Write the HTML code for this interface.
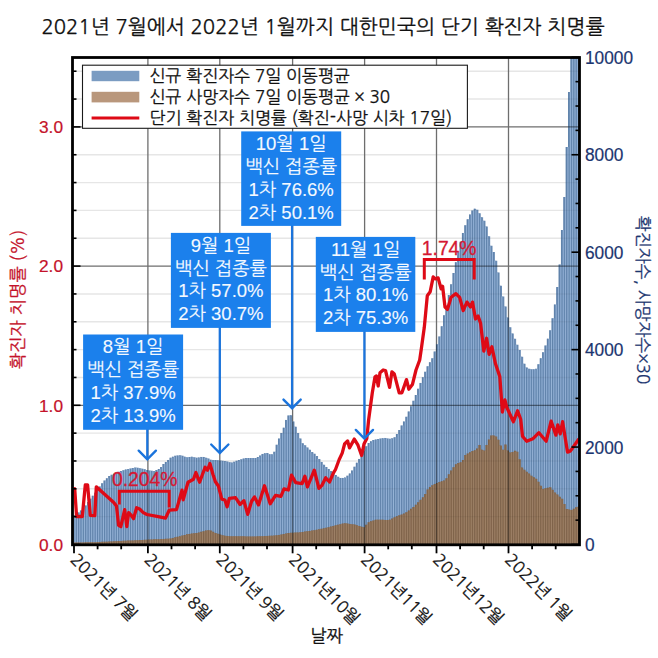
<!DOCTYPE html><html><head><meta charset="utf-8"><style>html,body{margin:0;padding:0;background:#fff;}body{width:658px;height:658px;overflow:hidden;position:relative}svg{position:absolute;left:0;top:0}</style></head><body>
<svg width="658" height="658" viewBox="0 0 658 658">
<rect width="658" height="658" fill="#fff"/>
<text x="41.5" y="34.3" font-family="'NanumGothic','Noto Sans CJK KR',sans-serif" font-size="20.3" fill="#111" stroke="#111" stroke-width="0.25">2021년 7월에서 2022년 1월까지 대한민국의 단기 확진자 치명률</text>
<defs><clipPath id="pc"><rect x="72.5" y="57.5" width="507.0" height="487.3"/></clipPath></defs>
<g clip-path="url(#pc)">
<clipPath id="bc"><path d="M72.82 544.8V515.00h2.358V544.8zM75.18 544.8V513.41h2.358V544.8zM77.54 544.8V512.38h2.358V544.8zM79.89 544.8V510.43h2.358V544.8zM82.25 544.8V507.92h2.358V544.8zM84.61 544.8V505.38h2.358V544.8zM86.97 544.8V502.11h2.358V544.8zM89.33 544.8V498.84h2.358V544.8zM91.69 544.8V495.78h2.358V544.8zM94.04 544.8V492.84h2.358V544.8zM96.40 544.8V489.90h2.358V544.8zM98.76 544.8V486.62h2.358V544.8zM101.12 544.8V483.28h2.358V544.8zM103.47 544.8V480.61h2.358V544.8zM105.83 544.8V478.36h2.358V544.8zM108.19 544.8V476.10h2.358V544.8zM110.55 544.8V474.77h2.358V544.8zM112.91 544.8V473.78h2.358V544.8zM115.27 544.8V472.79h2.358V544.8zM117.62 544.8V471.87h2.358V544.8zM119.98 544.8V471.04h2.358V544.8zM122.34 544.8V470.20h2.358V544.8zM124.70 544.8V469.47h2.358V544.8zM127.06 544.8V469.00h2.358V544.8zM129.41 544.8V468.53h2.358V544.8zM131.77 544.8V468.06h2.358V544.8zM134.13 544.8V467.60h2.358V544.8zM136.49 544.8V467.82h2.358V544.8zM138.84 544.8V468.22h2.358V544.8zM141.20 544.8V468.63h2.358V544.8zM143.56 544.8V469.24h2.358V544.8zM145.92 544.8V470.01h2.358V544.8zM148.28 544.8V470.49h2.358V544.8zM150.64 544.8V470.81h2.358V544.8zM152.99 544.8V471.03h2.358V544.8zM155.35 544.8V470.02h2.358V544.8zM157.71 544.8V469.02h2.358V544.8zM160.07 544.8V467.03h2.358V544.8zM162.42 544.8V464.01h2.358V544.8zM164.78 544.8V461.95h2.358V544.8zM167.14 544.8V459.98h2.358V544.8zM169.50 544.8V457.67h2.358V544.8zM171.86 544.8V456.71h2.358V544.8zM174.22 544.8V455.75h2.358V544.8zM176.57 544.8V455.43h2.358V544.8zM178.93 544.8V455.34h2.358V544.8zM181.29 544.8V455.74h2.358V544.8zM183.65 544.8V456.64h2.358V544.8zM186.00 544.8V457.14h2.358V544.8zM188.36 544.8V456.97h2.358V544.8zM190.72 544.8V456.80h2.358V544.8zM193.08 544.8V457.24h2.358V544.8zM195.44 544.8V457.69h2.358V544.8zM197.79 544.8V457.41h2.358V544.8zM200.15 544.8V456.88h2.358V544.8zM202.51 544.8V456.95h2.358V544.8zM204.87 544.8V457.71h2.358V544.8zM207.23 544.8V458.58h2.358V544.8zM209.59 544.8V459.73h2.358V544.8zM211.94 544.8V459.91h2.358V544.8zM214.30 544.8V460.09h2.358V544.8zM216.66 544.8V460.27h2.358V544.8zM219.02 544.8V460.49h2.358V544.8zM221.38 544.8V460.80h2.358V544.8zM223.73 544.8V461.11h2.358V544.8zM226.09 544.8V461.61h2.358V544.8zM228.45 544.8V462.19h2.358V544.8zM230.81 544.8V462.59h2.358V544.8zM233.16 544.8V461.70h2.358V544.8zM235.52 544.8V460.81h2.358V544.8zM237.88 544.8V460.02h2.358V544.8zM240.24 544.8V459.31h2.358V544.8zM242.60 544.8V458.59h2.358V544.8zM244.96 544.8V458.09h2.358V544.8zM247.31 544.8V458.06h2.358V544.8zM249.67 544.8V458.03h2.358V544.8zM252.03 544.8V458.01h2.358V544.8zM254.39 544.8V458.08h2.358V544.8zM256.75 544.8V457.08h2.358V544.8zM259.10 544.8V455.49h2.358V544.8zM261.46 544.8V453.91h2.358V544.8zM263.82 544.8V453.28h2.358V544.8zM266.18 544.8V452.97h2.358V544.8zM268.54 544.8V454.13h2.358V544.8zM270.89 544.8V454.13h2.358V544.8zM273.25 544.8V451.77h2.358V544.8zM275.61 544.8V444.80h2.358V544.8zM277.97 544.8V438.59h2.358V544.8zM280.33 544.8V433.08h2.358V544.8zM282.68 544.8V427.66h2.358V544.8zM285.04 544.8V419.88h2.358V544.8zM287.40 544.8V415.41h2.358V544.8zM289.76 544.8V415.20h2.358V544.8zM292.12 544.8V421.45h2.358V544.8zM294.47 544.8V426.70h2.358V544.8zM296.83 544.8V433.11h2.358V544.8zM299.19 544.8V438.43h2.358V544.8zM301.55 544.8V443.32h2.358V544.8zM303.91 544.8V445.30h2.358V544.8zM306.26 544.8V447.44h2.358V544.8zM308.62 544.8V449.80h2.358V544.8zM310.98 544.8V452.04h2.358V544.8zM313.34 544.8V453.80h2.358V544.8zM315.70 544.8V456.00h2.358V544.8zM318.05 544.8V458.98h2.358V544.8zM320.41 544.8V461.91h2.358V544.8zM322.77 544.8V464.82h2.358V544.8zM325.13 544.8V466.98h2.358V544.8zM327.49 544.8V468.91h2.358V544.8zM329.84 544.8V470.94h2.358V544.8zM332.20 544.8V473.09h2.358V544.8zM334.56 544.8V475.06h2.358V544.8zM336.92 544.8V476.80h2.358V544.8zM339.28 544.8V477.90h2.358V544.8zM341.63 544.8V477.90h2.358V544.8zM343.99 544.8V477.40h2.358V544.8zM346.35 544.8V475.63h2.358V544.8zM348.71 544.8V473.52h2.358V544.8zM351.07 544.8V470.40h2.358V544.8zM353.42 544.8V466.69h2.358V544.8zM355.78 544.8V462.72h2.358V544.8zM358.14 544.8V458.89h2.358V544.8zM360.50 544.8V454.97h2.358V544.8zM362.86 544.8V450.94h2.358V544.8zM365.21 544.8V446.28h2.358V544.8zM367.57 544.8V443.01h2.358V544.8zM369.93 544.8V441.20h2.358V544.8zM372.29 544.8V439.99h2.358V544.8zM374.65 544.8V439.53h2.358V544.8zM377.00 544.8V439.06h2.358V544.8zM379.36 544.8V438.60h2.358V544.8zM381.72 544.8V438.13h2.358V544.8zM384.08 544.8V437.93h2.358V544.8zM386.44 544.8V438.39h2.358V544.8zM388.79 544.8V438.86h2.358V544.8zM391.15 544.8V438.29h2.358V544.8zM393.51 544.8V437.27h2.358V544.8zM395.87 544.8V434.09h2.358V544.8zM398.23 544.8V430.10h2.358V544.8zM400.58 544.8V425.46h2.358V544.8zM402.94 544.8V421.43h2.358V544.8zM405.30 544.8V416.83h2.358V544.8zM407.66 544.8V411.49h2.358V544.8zM410.02 544.8V406.15h2.358V544.8zM412.37 544.8V400.82h2.358V544.8zM414.73 544.8V395.03h2.358V544.8zM417.09 544.8V388.72h2.358V544.8zM419.45 544.8V382.90h2.358V544.8zM421.81 544.8V377.21h2.358V544.8zM424.16 544.8V371.72h2.358V544.8zM426.52 544.8V366.36h2.358V544.8zM428.88 544.8V362.14h2.358V544.8zM431.24 544.8V358.30h2.358V544.8zM433.60 544.8V351.61h2.358V544.8zM435.95 544.8V344.35h2.358V544.8zM438.31 544.8V336.38h2.358V544.8zM440.67 544.8V326.34h2.358V544.8zM443.03 544.8V315.32h2.358V544.8zM445.39 544.8V305.56h2.358V544.8zM447.74 544.8V295.11h2.358V544.8zM450.10 544.8V284.25h2.358V544.8zM452.46 544.8V273.11h2.358V544.8zM454.82 544.8V262.15h2.358V544.8zM457.18 544.8V251.31h2.358V544.8zM459.53 544.8V241.72h2.358V544.8zM461.89 544.8V232.97h2.358V544.8zM464.25 544.8V225.20h2.358V544.8zM466.61 544.8V219.37h2.358V544.8zM468.97 544.8V214.41h2.358V544.8zM471.32 544.8V210.52h2.358V544.8zM473.68 544.8V208.66h2.358V544.8zM476.04 544.8V209.81h2.358V544.8zM478.40 544.8V213.29h2.358V544.8zM480.76 544.8V217.28h2.358V544.8zM483.11 544.8V220.76h2.358V544.8zM485.47 544.8V226.48h2.358V544.8zM487.83 544.8V236.36h2.358V544.8zM490.19 544.8V245.87h2.358V544.8zM492.55 544.8V252.12h2.358V544.8zM494.90 544.8V260.80h2.358V544.8zM497.26 544.8V272.46h2.358V544.8zM499.62 544.8V285.72h2.358V544.8zM501.98 544.8V296.62h2.358V544.8zM504.34 544.8V306.54h2.358V544.8zM506.69 544.8V317.60h2.358V544.8zM509.05 544.8V327.29h2.358V544.8zM511.41 544.8V333.42h2.358V544.8zM513.77 544.8V338.87h2.358V544.8zM516.13 544.8V344.81h2.358V544.8zM518.48 544.8V350.09h2.358V544.8zM520.84 544.8V356.72h2.358V544.8zM523.20 544.8V363.70h2.358V544.8zM525.56 544.8V367.50h2.358V544.8zM527.92 544.8V368.85h2.358V544.8zM530.27 544.8V369.31h2.358V544.8zM532.63 544.8V369.31h2.358V544.8zM534.99 544.8V368.86h2.358V544.8zM537.35 544.8V364.15h2.358V544.8zM539.71 544.8V358.22h2.358V544.8zM542.06 544.8V352.16h2.358V544.8zM544.42 544.8V345.51h2.358V544.8zM546.78 544.8V338.63h2.358V544.8zM549.14 544.8V330.18h2.358V544.8zM551.50 544.8V318.24h2.358V544.8zM553.85 544.8V304.50h2.358V544.8zM556.21 544.8V287.06h2.358V544.8zM558.57 544.8V264.53h2.358V544.8zM560.93 544.8V230.00h2.358V544.8zM563.28 544.8V197.00h2.358V544.8zM565.64 544.8V147.00h2.358V544.8zM568.00 544.8V92.00h2.358V544.8zM570.36 544.8V39.42h2.358V544.8zM572.72 544.8V29.60h2.358V544.8zM575.08 544.8V19.77h2.358V544.8zM577.43 544.8V9.95h2.358V544.8z"/></clipPath>
<line x1="72.5" x2="579.5" y1="516.66" y2="516.66" stroke="#e6e6e6" stroke-width="1.4"/>
<line x1="72.5" x2="579.5" y1="488.82" y2="488.82" stroke="#e6e6e6" stroke-width="1.4"/>
<line x1="72.5" x2="579.5" y1="460.98" y2="460.98" stroke="#e6e6e6" stroke-width="1.4"/>
<line x1="72.5" x2="579.5" y1="433.14" y2="433.14" stroke="#e6e6e6" stroke-width="1.4"/>
<line x1="72.5" x2="579.5" y1="405.30" y2="405.30" stroke="#6e6e6e" stroke-width="1.3"/>
<line x1="72.5" x2="579.5" y1="377.46" y2="377.46" stroke="#e6e6e6" stroke-width="1.4"/>
<line x1="72.5" x2="579.5" y1="349.62" y2="349.62" stroke="#e6e6e6" stroke-width="1.4"/>
<line x1="72.5" x2="579.5" y1="321.78" y2="321.78" stroke="#e6e6e6" stroke-width="1.4"/>
<line x1="72.5" x2="579.5" y1="293.94" y2="293.94" stroke="#e6e6e6" stroke-width="1.4"/>
<line x1="72.5" x2="579.5" y1="266.10" y2="266.10" stroke="#6e6e6e" stroke-width="1.3"/>
<line x1="72.5" x2="579.5" y1="238.26" y2="238.26" stroke="#e6e6e6" stroke-width="1.4"/>
<line x1="72.5" x2="579.5" y1="210.42" y2="210.42" stroke="#e6e6e6" stroke-width="1.4"/>
<line x1="72.5" x2="579.5" y1="182.58" y2="182.58" stroke="#e6e6e6" stroke-width="1.4"/>
<line x1="72.5" x2="579.5" y1="154.74" y2="154.74" stroke="#e6e6e6" stroke-width="1.4"/>
<line x1="72.5" x2="579.5" y1="126.90" y2="126.90" stroke="#6e6e6e" stroke-width="1.3"/>
<line x1="72.5" x2="579.5" y1="99.06" y2="99.06" stroke="#e6e6e6" stroke-width="1.4"/>
<line x1="72.5" x2="579.5" y1="71.22" y2="71.22" stroke="#e6e6e6" stroke-width="1.4"/>
<line x1="147.9" x2="147.9" y1="57.5" y2="544.8" stroke="#6e6e6e" stroke-width="1.3"/>
<line x1="219.8" x2="219.8" y1="57.5" y2="544.8" stroke="#6e6e6e" stroke-width="1.3"/>
<line x1="292.6" x2="292.6" y1="57.5" y2="544.8" stroke="#6e6e6e" stroke-width="1.3"/>
<line x1="364.6" x2="364.6" y1="57.5" y2="544.8" stroke="#6e6e6e" stroke-width="1.3"/>
<line x1="436.5" x2="436.5" y1="57.5" y2="544.8" stroke="#6e6e6e" stroke-width="1.3"/>
<line x1="508.5" x2="508.5" y1="57.5" y2="544.8" stroke="#6e6e6e" stroke-width="1.3"/>
<path d="M72.82 544.8V515.00h2.358V544.8zM75.18 544.8V513.41h2.358V544.8zM77.54 544.8V512.38h2.358V544.8zM79.89 544.8V510.43h2.358V544.8zM82.25 544.8V507.92h2.358V544.8zM84.61 544.8V505.38h2.358V544.8zM86.97 544.8V502.11h2.358V544.8zM89.33 544.8V498.84h2.358V544.8zM91.69 544.8V495.78h2.358V544.8zM94.04 544.8V492.84h2.358V544.8zM96.40 544.8V489.90h2.358V544.8zM98.76 544.8V486.62h2.358V544.8zM101.12 544.8V483.28h2.358V544.8zM103.47 544.8V480.61h2.358V544.8zM105.83 544.8V478.36h2.358V544.8zM108.19 544.8V476.10h2.358V544.8zM110.55 544.8V474.77h2.358V544.8zM112.91 544.8V473.78h2.358V544.8zM115.27 544.8V472.79h2.358V544.8zM117.62 544.8V471.87h2.358V544.8zM119.98 544.8V471.04h2.358V544.8zM122.34 544.8V470.20h2.358V544.8zM124.70 544.8V469.47h2.358V544.8zM127.06 544.8V469.00h2.358V544.8zM129.41 544.8V468.53h2.358V544.8zM131.77 544.8V468.06h2.358V544.8zM134.13 544.8V467.60h2.358V544.8zM136.49 544.8V467.82h2.358V544.8zM138.84 544.8V468.22h2.358V544.8zM141.20 544.8V468.63h2.358V544.8zM143.56 544.8V469.24h2.358V544.8zM145.92 544.8V470.01h2.358V544.8zM148.28 544.8V470.49h2.358V544.8zM150.64 544.8V470.81h2.358V544.8zM152.99 544.8V471.03h2.358V544.8zM155.35 544.8V470.02h2.358V544.8zM157.71 544.8V469.02h2.358V544.8zM160.07 544.8V467.03h2.358V544.8zM162.42 544.8V464.01h2.358V544.8zM164.78 544.8V461.95h2.358V544.8zM167.14 544.8V459.98h2.358V544.8zM169.50 544.8V457.67h2.358V544.8zM171.86 544.8V456.71h2.358V544.8zM174.22 544.8V455.75h2.358V544.8zM176.57 544.8V455.43h2.358V544.8zM178.93 544.8V455.34h2.358V544.8zM181.29 544.8V455.74h2.358V544.8zM183.65 544.8V456.64h2.358V544.8zM186.00 544.8V457.14h2.358V544.8zM188.36 544.8V456.97h2.358V544.8zM190.72 544.8V456.80h2.358V544.8zM193.08 544.8V457.24h2.358V544.8zM195.44 544.8V457.69h2.358V544.8zM197.79 544.8V457.41h2.358V544.8zM200.15 544.8V456.88h2.358V544.8zM202.51 544.8V456.95h2.358V544.8zM204.87 544.8V457.71h2.358V544.8zM207.23 544.8V458.58h2.358V544.8zM209.59 544.8V459.73h2.358V544.8zM211.94 544.8V459.91h2.358V544.8zM214.30 544.8V460.09h2.358V544.8zM216.66 544.8V460.27h2.358V544.8zM219.02 544.8V460.49h2.358V544.8zM221.38 544.8V460.80h2.358V544.8zM223.73 544.8V461.11h2.358V544.8zM226.09 544.8V461.61h2.358V544.8zM228.45 544.8V462.19h2.358V544.8zM230.81 544.8V462.59h2.358V544.8zM233.16 544.8V461.70h2.358V544.8zM235.52 544.8V460.81h2.358V544.8zM237.88 544.8V460.02h2.358V544.8zM240.24 544.8V459.31h2.358V544.8zM242.60 544.8V458.59h2.358V544.8zM244.96 544.8V458.09h2.358V544.8zM247.31 544.8V458.06h2.358V544.8zM249.67 544.8V458.03h2.358V544.8zM252.03 544.8V458.01h2.358V544.8zM254.39 544.8V458.08h2.358V544.8zM256.75 544.8V457.08h2.358V544.8zM259.10 544.8V455.49h2.358V544.8zM261.46 544.8V453.91h2.358V544.8zM263.82 544.8V453.28h2.358V544.8zM266.18 544.8V452.97h2.358V544.8zM268.54 544.8V454.13h2.358V544.8zM270.89 544.8V454.13h2.358V544.8zM273.25 544.8V451.77h2.358V544.8zM275.61 544.8V444.80h2.358V544.8zM277.97 544.8V438.59h2.358V544.8zM280.33 544.8V433.08h2.358V544.8zM282.68 544.8V427.66h2.358V544.8zM285.04 544.8V419.88h2.358V544.8zM287.40 544.8V415.41h2.358V544.8zM289.76 544.8V415.20h2.358V544.8zM292.12 544.8V421.45h2.358V544.8zM294.47 544.8V426.70h2.358V544.8zM296.83 544.8V433.11h2.358V544.8zM299.19 544.8V438.43h2.358V544.8zM301.55 544.8V443.32h2.358V544.8zM303.91 544.8V445.30h2.358V544.8zM306.26 544.8V447.44h2.358V544.8zM308.62 544.8V449.80h2.358V544.8zM310.98 544.8V452.04h2.358V544.8zM313.34 544.8V453.80h2.358V544.8zM315.70 544.8V456.00h2.358V544.8zM318.05 544.8V458.98h2.358V544.8zM320.41 544.8V461.91h2.358V544.8zM322.77 544.8V464.82h2.358V544.8zM325.13 544.8V466.98h2.358V544.8zM327.49 544.8V468.91h2.358V544.8zM329.84 544.8V470.94h2.358V544.8zM332.20 544.8V473.09h2.358V544.8zM334.56 544.8V475.06h2.358V544.8zM336.92 544.8V476.80h2.358V544.8zM339.28 544.8V477.90h2.358V544.8zM341.63 544.8V477.90h2.358V544.8zM343.99 544.8V477.40h2.358V544.8zM346.35 544.8V475.63h2.358V544.8zM348.71 544.8V473.52h2.358V544.8zM351.07 544.8V470.40h2.358V544.8zM353.42 544.8V466.69h2.358V544.8zM355.78 544.8V462.72h2.358V544.8zM358.14 544.8V458.89h2.358V544.8zM360.50 544.8V454.97h2.358V544.8zM362.86 544.8V450.94h2.358V544.8zM365.21 544.8V446.28h2.358V544.8zM367.57 544.8V443.01h2.358V544.8zM369.93 544.8V441.20h2.358V544.8zM372.29 544.8V439.99h2.358V544.8zM374.65 544.8V439.53h2.358V544.8zM377.00 544.8V439.06h2.358V544.8zM379.36 544.8V438.60h2.358V544.8zM381.72 544.8V438.13h2.358V544.8zM384.08 544.8V437.93h2.358V544.8zM386.44 544.8V438.39h2.358V544.8zM388.79 544.8V438.86h2.358V544.8zM391.15 544.8V438.29h2.358V544.8zM393.51 544.8V437.27h2.358V544.8zM395.87 544.8V434.09h2.358V544.8zM398.23 544.8V430.10h2.358V544.8zM400.58 544.8V425.46h2.358V544.8zM402.94 544.8V421.43h2.358V544.8zM405.30 544.8V416.83h2.358V544.8zM407.66 544.8V411.49h2.358V544.8zM410.02 544.8V406.15h2.358V544.8zM412.37 544.8V400.82h2.358V544.8zM414.73 544.8V395.03h2.358V544.8zM417.09 544.8V388.72h2.358V544.8zM419.45 544.8V382.90h2.358V544.8zM421.81 544.8V377.21h2.358V544.8zM424.16 544.8V371.72h2.358V544.8zM426.52 544.8V366.36h2.358V544.8zM428.88 544.8V362.14h2.358V544.8zM431.24 544.8V358.30h2.358V544.8zM433.60 544.8V351.61h2.358V544.8zM435.95 544.8V344.35h2.358V544.8zM438.31 544.8V336.38h2.358V544.8zM440.67 544.8V326.34h2.358V544.8zM443.03 544.8V315.32h2.358V544.8zM445.39 544.8V305.56h2.358V544.8zM447.74 544.8V295.11h2.358V544.8zM450.10 544.8V284.25h2.358V544.8zM452.46 544.8V273.11h2.358V544.8zM454.82 544.8V262.15h2.358V544.8zM457.18 544.8V251.31h2.358V544.8zM459.53 544.8V241.72h2.358V544.8zM461.89 544.8V232.97h2.358V544.8zM464.25 544.8V225.20h2.358V544.8zM466.61 544.8V219.37h2.358V544.8zM468.97 544.8V214.41h2.358V544.8zM471.32 544.8V210.52h2.358V544.8zM473.68 544.8V208.66h2.358V544.8zM476.04 544.8V209.81h2.358V544.8zM478.40 544.8V213.29h2.358V544.8zM480.76 544.8V217.28h2.358V544.8zM483.11 544.8V220.76h2.358V544.8zM485.47 544.8V226.48h2.358V544.8zM487.83 544.8V236.36h2.358V544.8zM490.19 544.8V245.87h2.358V544.8zM492.55 544.8V252.12h2.358V544.8zM494.90 544.8V260.80h2.358V544.8zM497.26 544.8V272.46h2.358V544.8zM499.62 544.8V285.72h2.358V544.8zM501.98 544.8V296.62h2.358V544.8zM504.34 544.8V306.54h2.358V544.8zM506.69 544.8V317.60h2.358V544.8zM509.05 544.8V327.29h2.358V544.8zM511.41 544.8V333.42h2.358V544.8zM513.77 544.8V338.87h2.358V544.8zM516.13 544.8V344.81h2.358V544.8zM518.48 544.8V350.09h2.358V544.8zM520.84 544.8V356.72h2.358V544.8zM523.20 544.8V363.70h2.358V544.8zM525.56 544.8V367.50h2.358V544.8zM527.92 544.8V368.85h2.358V544.8zM530.27 544.8V369.31h2.358V544.8zM532.63 544.8V369.31h2.358V544.8zM534.99 544.8V368.86h2.358V544.8zM537.35 544.8V364.15h2.358V544.8zM539.71 544.8V358.22h2.358V544.8zM542.06 544.8V352.16h2.358V544.8zM544.42 544.8V345.51h2.358V544.8zM546.78 544.8V338.63h2.358V544.8zM549.14 544.8V330.18h2.358V544.8zM551.50 544.8V318.24h2.358V544.8zM553.85 544.8V304.50h2.358V544.8zM556.21 544.8V287.06h2.358V544.8zM558.57 544.8V264.53h2.358V544.8zM560.93 544.8V230.00h2.358V544.8zM563.28 544.8V197.00h2.358V544.8zM565.64 544.8V147.00h2.358V544.8zM568.00 544.8V92.00h2.358V544.8zM570.36 544.8V39.42h2.358V544.8zM572.72 544.8V29.60h2.358V544.8zM575.08 544.8V19.77h2.358V544.8zM577.43 544.8V9.95h2.358V544.8z" fill="#6b8db6"/>
<path d="M75.93 544.8V513.41M78.29 544.8V512.38M80.64 544.8V510.43M83.00 544.8V507.92M85.36 544.8V505.38M87.72 544.8V502.11M90.08 544.8V498.84M92.44 544.8V495.78M94.79 544.8V492.84M97.15 544.8V489.90M99.51 544.8V486.62M101.87 544.8V483.28M104.22 544.8V480.61M106.58 544.8V478.36M108.94 544.8V476.10M111.30 544.8V474.77M113.66 544.8V473.78M116.02 544.8V472.79M118.37 544.8V471.87M120.73 544.8V471.04M123.09 544.8V470.20M125.45 544.8V469.47M127.81 544.8V469.00M130.16 544.8V468.53M132.52 544.8V468.06M134.88 544.8V467.60M137.24 544.8V467.82M139.59 544.8V468.22M141.95 544.8V468.63M144.31 544.8V469.24M146.67 544.8V470.01M149.03 544.8V470.49M151.39 544.8V470.81M153.74 544.8V471.03M156.10 544.8V470.02M158.46 544.8V469.02M160.82 544.8V467.03M163.17 544.8V464.01M165.53 544.8V461.95M167.89 544.8V459.98M170.25 544.8V457.67M172.61 544.8V456.71M174.97 544.8V455.75M177.32 544.8V455.43M179.68 544.8V455.34M182.04 544.8V455.74M184.40 544.8V456.64M186.75 544.8V457.14M189.11 544.8V456.97M191.47 544.8V456.80M193.83 544.8V457.24M196.19 544.8V457.69M198.54 544.8V457.41M200.90 544.8V456.88M203.26 544.8V456.95M205.62 544.8V457.71M207.98 544.8V458.58M210.34 544.8V459.73M212.69 544.8V459.91M215.05 544.8V460.09M217.41 544.8V460.27M219.77 544.8V460.49M222.12 544.8V460.80M224.48 544.8V461.11M226.84 544.8V461.61M229.20 544.8V462.19M231.56 544.8V462.59M233.91 544.8V461.70M236.27 544.8V460.81M238.63 544.8V460.02M240.99 544.8V459.31M243.35 544.8V458.59M245.71 544.8V458.09M248.06 544.8V458.06M250.42 544.8V458.03M252.78 544.8V458.01M255.14 544.8V458.08M257.50 544.8V457.08M259.85 544.8V455.49M262.21 544.8V453.91M264.57 544.8V453.28M266.93 544.8V452.97M269.29 544.8V454.13M271.64 544.8V454.13M274.00 544.8V451.77M276.36 544.8V444.80M278.72 544.8V438.59M281.08 544.8V433.08M283.43 544.8V427.66M285.79 544.8V419.88M288.15 544.8V415.41M290.51 544.8V415.20M292.87 544.8V421.45M295.22 544.8V426.70M297.58 544.8V433.11M299.94 544.8V438.43M302.30 544.8V443.32M304.66 544.8V445.30M307.01 544.8V447.44M309.37 544.8V449.80M311.73 544.8V452.04M314.09 544.8V453.80M316.45 544.8V456.00M318.80 544.8V458.98M321.16 544.8V461.91M323.52 544.8V464.82M325.88 544.8V466.98M328.24 544.8V468.91M330.59 544.8V470.94M332.95 544.8V473.09M335.31 544.8V475.06M337.67 544.8V476.80M340.03 544.8V477.90M342.38 544.8V477.90M344.74 544.8V477.40M347.10 544.8V475.63M349.46 544.8V473.52M351.82 544.8V470.40M354.17 544.8V466.69M356.53 544.8V462.72M358.89 544.8V458.89M361.25 544.8V454.97M363.61 544.8V450.94M365.96 544.8V446.28M368.32 544.8V443.01M370.68 544.8V441.20M373.04 544.8V439.99M375.40 544.8V439.53M377.75 544.8V439.06M380.11 544.8V438.60M382.47 544.8V438.13M384.83 544.8V437.93M387.19 544.8V438.39M389.54 544.8V438.86M391.90 544.8V438.29M394.26 544.8V437.27M396.62 544.8V434.09M398.98 544.8V430.10M401.33 544.8V425.46M403.69 544.8V421.43M406.05 544.8V416.83M408.41 544.8V411.49M410.77 544.8V406.15M413.12 544.8V400.82M415.48 544.8V395.03M417.84 544.8V388.72M420.20 544.8V382.90M422.56 544.8V377.21M424.91 544.8V371.72M427.27 544.8V366.36M429.63 544.8V362.14M431.99 544.8V358.30M434.35 544.8V351.61M436.70 544.8V344.35M439.06 544.8V336.38M441.42 544.8V326.34M443.78 544.8V315.32M446.14 544.8V305.56M448.49 544.8V295.11M450.85 544.8V284.25M453.21 544.8V273.11M455.57 544.8V262.15M457.93 544.8V251.31M460.28 544.8V241.72M462.64 544.8V232.97M465.00 544.8V225.20M467.36 544.8V219.37M469.72 544.8V214.41M472.07 544.8V210.52M474.43 544.8V208.66M476.79 544.8V209.81M479.15 544.8V213.29M481.51 544.8V217.28M483.86 544.8V220.76M486.22 544.8V226.48M488.58 544.8V236.36M490.94 544.8V245.87M493.30 544.8V252.12M495.65 544.8V260.80M498.01 544.8V272.46M500.37 544.8V285.72M502.73 544.8V296.62M505.09 544.8V306.54M507.44 544.8V317.60M509.80 544.8V327.29M512.16 544.8V333.42M514.52 544.8V338.87M516.88 544.8V344.81M519.23 544.8V350.09M521.59 544.8V356.72M523.95 544.8V363.70M526.31 544.8V367.50M528.67 544.8V368.85M531.02 544.8V369.31M533.38 544.8V369.31M535.74 544.8V368.86M538.10 544.8V364.15M540.46 544.8V358.22M542.81 544.8V352.16M545.17 544.8V345.51M547.53 544.8V338.63M549.89 544.8V330.18M552.25 544.8V318.24M554.60 544.8V304.50M556.96 544.8V287.06M559.32 544.8V264.53M561.68 544.8V230.00M564.03 544.8V197.00M566.39 544.8V147.00M568.75 544.8V92.00M571.11 544.8V39.42M573.47 544.8V29.60M575.83 544.8V19.77M578.18 544.8V9.95" stroke="#56799f" stroke-width="0.6" fill="none"/>
<path d="M75.18 544.8V515.00M77.54 544.8V513.41M79.89 544.8V512.38M82.25 544.8V510.43M84.61 544.8V507.92M86.97 544.8V505.38M89.33 544.8V502.11M91.69 544.8V498.84M94.04 544.8V495.78M96.40 544.8V492.84M98.76 544.8V489.90M101.12 544.8V486.62M103.47 544.8V483.28M105.83 544.8V480.61M108.19 544.8V478.36M110.55 544.8V476.10M112.91 544.8V474.77M115.27 544.8V473.78M117.62 544.8V472.79M119.98 544.8V471.87M122.34 544.8V471.04M124.70 544.8V470.20M127.06 544.8V469.47M129.41 544.8V469.00M131.77 544.8V468.53M134.13 544.8V468.06M136.49 544.8V467.82M138.84 544.8V468.22M141.20 544.8V468.63M143.56 544.8V469.24M145.92 544.8V470.01M148.28 544.8V470.49M150.64 544.8V470.81M152.99 544.8V471.03M155.35 544.8V471.03M157.71 544.8V470.02M160.07 544.8V469.02M162.42 544.8V467.03M164.78 544.8V464.01M167.14 544.8V461.95M169.50 544.8V459.98M171.86 544.8V457.67M174.22 544.8V456.71M176.57 544.8V455.75M178.93 544.8V455.43M181.29 544.8V455.74M183.65 544.8V456.64M186.00 544.8V457.14M188.36 544.8V457.14M190.72 544.8V456.97M193.08 544.8V457.24M195.44 544.8V457.69M197.79 544.8V457.69M200.15 544.8V457.41M202.51 544.8V456.95M204.87 544.8V457.71M207.23 544.8V458.58M209.59 544.8V459.73M211.94 544.8V459.91M214.30 544.8V460.09M216.66 544.8V460.27M219.02 544.8V460.49M221.38 544.8V460.80M223.73 544.8V461.11M226.09 544.8V461.61M228.45 544.8V462.19M230.81 544.8V462.59M233.16 544.8V462.59M235.52 544.8V461.70M237.88 544.8V460.81M240.24 544.8V460.02M242.60 544.8V459.31M244.96 544.8V458.59M247.31 544.8V458.09M249.67 544.8V458.06M252.03 544.8V458.03M254.39 544.8V458.08M256.75 544.8V458.08M259.10 544.8V457.08M261.46 544.8V455.49M263.82 544.8V453.91M266.18 544.8V453.28M268.54 544.8V454.13M270.89 544.8V454.13M273.25 544.8V454.13M275.61 544.8V451.77M277.97 544.8V444.80M280.33 544.8V438.59M282.68 544.8V433.08M285.04 544.8V427.66M287.40 544.8V419.88M289.76 544.8V415.41M292.12 544.8V421.45M294.47 544.8V426.70M296.83 544.8V433.11M299.19 544.8V438.43M301.55 544.8V443.32M303.91 544.8V445.30M306.26 544.8V447.44M308.62 544.8V449.80M310.98 544.8V452.04M313.34 544.8V453.80M315.70 544.8V456.00M318.05 544.8V458.98M320.41 544.8V461.91M322.77 544.8V464.82M325.13 544.8V466.98M327.49 544.8V468.91M329.84 544.8V470.94M332.20 544.8V473.09M334.56 544.8V475.06M336.92 544.8V476.80M339.28 544.8V477.90M341.63 544.8V477.90M343.99 544.8V477.90M346.35 544.8V477.40M348.71 544.8V475.63M351.07 544.8V473.52M353.42 544.8V470.40M355.78 544.8V466.69M358.14 544.8V462.72M360.50 544.8V458.89M362.86 544.8V454.97M365.21 544.8V450.94M367.57 544.8V446.28M369.93 544.8V443.01M372.29 544.8V441.20M374.65 544.8V439.99M377.00 544.8V439.53M379.36 544.8V439.06M381.72 544.8V438.60M384.08 544.8V438.13M386.44 544.8V438.39M388.79 544.8V438.86M391.15 544.8V438.86M393.51 544.8V438.29M395.87 544.8V437.27M398.23 544.8V434.09M400.58 544.8V430.10M402.94 544.8V425.46M405.30 544.8V421.43M407.66 544.8V416.83M410.02 544.8V411.49M412.37 544.8V406.15M414.73 544.8V400.82M417.09 544.8V395.03M419.45 544.8V388.72M421.81 544.8V382.90M424.16 544.8V377.21M426.52 544.8V371.72M428.88 544.8V366.36M431.24 544.8V362.14M433.60 544.8V358.30M435.95 544.8V351.61M438.31 544.8V344.35M440.67 544.8V336.38M443.03 544.8V326.34M445.39 544.8V315.32M447.74 544.8V305.56M450.10 544.8V295.11M452.46 544.8V284.25M454.82 544.8V273.11M457.18 544.8V262.15M459.53 544.8V251.31M461.89 544.8V241.72M464.25 544.8V232.97M466.61 544.8V225.20M468.97 544.8V219.37M471.32 544.8V214.41M473.68 544.8V210.52M476.04 544.8V209.81M478.40 544.8V213.29M480.76 544.8V217.28M483.11 544.8V220.76M485.47 544.8V226.48M487.83 544.8V236.36M490.19 544.8V245.87M492.55 544.8V252.12M494.90 544.8V260.80M497.26 544.8V272.46M499.62 544.8V285.72M501.98 544.8V296.62M504.34 544.8V306.54M506.69 544.8V317.60M509.05 544.8V327.29M511.41 544.8V333.42M513.77 544.8V338.87M516.13 544.8V344.81M518.48 544.8V350.09M520.84 544.8V356.72M523.20 544.8V363.70M525.56 544.8V367.50M527.92 544.8V368.85M530.27 544.8V369.31M532.63 544.8V369.31M534.99 544.8V369.31M537.35 544.8V368.86M539.71 544.8V364.15M542.06 544.8V358.22M544.42 544.8V352.16M546.78 544.8V345.51M549.14 544.8V338.63M551.50 544.8V330.18M553.85 544.8V318.24M556.21 544.8V304.50M558.57 544.8V287.06M560.93 544.8V264.53M563.28 544.8V230.00M565.64 544.8V197.00M568.00 544.8V147.00M570.36 544.8V92.00M572.72 544.8V39.42M575.08 544.8V29.60M577.43 544.8V19.77" stroke="#a9c4e6" stroke-width="0.7" fill="none"/>
<path d="M72.82 544.8V542.57h2.358V544.8zM75.18 544.8V542.52h2.358V544.8zM77.54 544.8V542.48h2.358V544.8zM79.89 544.8V542.43h2.358V544.8zM82.25 544.8V542.38h2.358V544.8zM84.61 544.8V542.34h2.358V544.8zM86.97 544.8V542.29h2.358V544.8zM89.33 544.8V542.24h2.358V544.8zM91.69 544.8V542.20h2.358V544.8zM94.04 544.8V542.15h2.358V544.8zM96.40 544.8V542.10h2.358V544.8zM98.76 544.8V541.99h2.358V544.8zM101.12 544.8V541.87h2.358V544.8zM103.47 544.8V541.76h2.358V544.8zM105.83 544.8V541.64h2.358V544.8zM108.19 544.8V541.52h2.358V544.8zM110.55 544.8V541.40h2.358V544.8zM112.91 544.8V541.28h2.358V544.8zM115.27 544.8V541.16h2.358V544.8zM117.62 544.8V541.05h2.358V544.8zM119.98 544.8V540.93h2.358V544.8zM122.34 544.8V540.81h2.358V544.8zM124.70 544.8V540.71h2.358V544.8zM127.06 544.8V540.61h2.358V544.8zM129.41 544.8V540.50h2.358V544.8zM131.77 544.8V540.40h2.358V544.8zM134.13 544.8V540.30h2.358V544.8zM136.49 544.8V540.20h2.358V544.8zM138.84 544.8V540.10h2.358V544.8zM141.20 544.8V539.97h2.358V544.8zM143.56 544.8V539.85h2.358V544.8zM145.92 544.8V539.73h2.358V544.8zM148.28 544.8V539.60h2.358V544.8zM150.64 544.8V539.48h2.358V544.8zM152.99 544.8V539.35h2.358V544.8zM155.35 544.8V539.24h2.358V544.8zM157.71 544.8V539.13h2.358V544.8zM160.07 544.8V539.02h2.358V544.8zM162.42 544.8V538.91h2.358V544.8zM164.78 544.8V538.80h2.358V544.8zM167.14 544.8V538.70h2.358V544.8zM169.50 544.8V538.53h2.358V544.8zM171.86 544.8V537.93h2.358V544.8zM174.22 544.8V537.34h2.358V544.8zM176.57 544.8V536.74h2.358V544.8zM178.93 544.8V536.15h2.358V544.8zM181.29 544.8V535.55h2.358V544.8zM183.65 544.8V534.95h2.358V544.8zM186.00 544.8V534.36h2.358V544.8zM188.36 544.8V533.89h2.358V544.8zM190.72 544.8V533.61h2.358V544.8zM193.08 544.8V533.32h2.358V544.8zM195.44 544.8V533.04h2.358V544.8zM197.79 544.8V532.55h2.358V544.8zM200.15 544.8V531.85h2.358V544.8zM202.51 544.8V531.15h2.358V544.8zM204.87 544.8V530.45h2.358V544.8zM207.23 544.8V530.20h2.358V544.8zM209.59 544.8V530.62h2.358V544.8zM211.94 544.8V531.78h2.358V544.8zM214.30 544.8V532.94h2.358V544.8zM216.66 544.8V533.76h2.358V544.8zM219.02 544.8V534.47h2.358V544.8zM221.38 544.8V535.18h2.358V544.8zM223.73 544.8V535.64h2.358V544.8zM226.09 544.8V535.89h2.358V544.8zM228.45 544.8V536.13h2.358V544.8zM230.81 544.8V536.29h2.358V544.8zM233.16 544.8V536.26h2.358V544.8zM235.52 544.8V536.24h2.358V544.8zM237.88 544.8V536.21h2.358V544.8zM240.24 544.8V536.25h2.358V544.8zM242.60 544.8V536.32h2.358V544.8zM244.96 544.8V536.40h2.358V544.8zM247.31 544.8V536.48h2.358V544.8zM249.67 544.8V536.56h2.358V544.8zM252.03 544.8V536.56h2.358V544.8zM254.39 544.8V536.46h2.358V544.8zM256.75 544.8V536.36h2.358V544.8zM259.10 544.8V536.27h2.358V544.8zM261.46 544.8V536.17h2.358V544.8zM263.82 544.8V536.06h2.358V544.8zM266.18 544.8V535.92h2.358V544.8zM268.54 544.8V535.79h2.358V544.8zM270.89 544.8V535.65h2.358V544.8zM273.25 544.8V535.52h2.358V544.8zM275.61 544.8V535.34h2.358V544.8zM277.97 544.8V534.88h2.358V544.8zM280.33 544.8V534.41h2.358V544.8zM282.68 544.8V533.94h2.358V544.8zM285.04 544.8V533.47h2.358V544.8zM287.40 544.8V533.00h2.358V544.8zM289.76 544.8V532.85h2.358V544.8zM292.12 544.8V532.69h2.358V544.8zM294.47 544.8V532.54h2.358V544.8zM296.83 544.8V532.38h2.358V544.8zM299.19 544.8V532.23h2.358V544.8zM301.55 544.8V531.93h2.358V544.8zM303.91 544.8V531.60h2.358V544.8zM306.26 544.8V531.27h2.358V544.8zM308.62 544.8V530.95h2.358V544.8zM310.98 544.8V530.62h2.358V544.8zM313.34 544.8V530.20h2.358V544.8zM315.70 544.8V529.73h2.358V544.8zM318.05 544.8V529.26h2.358V544.8zM320.41 544.8V528.80h2.358V544.8zM322.77 544.8V528.33h2.358V544.8zM325.13 544.8V527.78h2.358V544.8zM327.49 544.8V527.17h2.358V544.8zM329.84 544.8V526.55h2.358V544.8zM332.20 544.8V525.93h2.358V544.8zM334.56 544.8V525.31h2.358V544.8zM336.92 544.8V524.71h2.358V544.8zM339.28 544.8V524.17h2.358V544.8zM341.63 544.8V523.62h2.358V544.8zM343.99 544.8V523.28h2.358V544.8zM346.35 544.8V523.59h2.358V544.8zM348.71 544.8V523.91h2.358V544.8zM351.07 544.8V524.22h2.358V544.8zM353.42 544.8V524.59h2.358V544.8zM355.78 544.8V525.30h2.358V544.8zM358.14 544.8V526.00h2.358V544.8zM360.50 544.8V526.71h2.358V544.8zM362.86 544.8V527.36h2.358V544.8zM365.21 544.8V524.76h2.358V544.8zM367.57 544.8V522.17h2.358V544.8zM369.93 544.8V521.27h2.358V544.8zM372.29 544.8V520.50h2.358V544.8zM374.65 544.8V519.72h2.358V544.8zM377.00 544.8V519.66h2.358V544.8zM379.36 544.8V519.73h2.358V544.8zM381.72 544.8V519.80h2.358V544.8zM384.08 544.8V519.88h2.358V544.8zM386.44 544.8V519.95h2.358V544.8zM388.79 544.8V519.66h2.358V544.8zM391.15 544.8V518.49h2.358V544.8zM393.51 544.8V517.31h2.358V544.8zM395.87 544.8V516.25h2.358V544.8zM398.23 544.8V515.37h2.358V544.8zM400.58 544.8V514.48h2.358V544.8zM402.94 544.8V513.60h2.358V544.8zM405.30 544.8V512.25h2.358V544.8zM407.66 544.8V510.48h2.358V544.8zM410.02 544.8V508.72h2.358V544.8zM412.37 544.8V506.96h2.358V544.8zM414.73 544.8V504.73h2.358V544.8zM417.09 544.8V502.27h2.358V544.8zM419.45 544.8V499.82h2.358V544.8zM421.81 544.8V497.37h2.358V544.8zM424.16 544.8V494.02h2.358V544.8zM426.52 544.8V489.52h2.358V544.8zM428.88 544.8V486.91h2.358V544.8zM431.24 544.8V485.27h2.358V544.8zM433.60 544.8V483.90h2.358V544.8zM435.95 544.8V482.92h2.358V544.8zM438.31 544.8V481.97h2.358V544.8zM440.67 544.8V481.20h2.358V544.8zM443.03 544.8V480.42h2.358V544.8zM445.39 544.8V478.24h2.358V544.8zM447.74 544.8V474.33h2.358V544.8zM450.10 544.8V470.43h2.358V544.8zM452.46 544.8V467.22h2.358V544.8zM454.82 544.8V464.26h2.358V544.8zM457.18 544.8V463.12h2.358V544.8zM459.53 544.8V462.17h2.358V544.8zM461.89 544.8V460.08h2.358V544.8zM464.25 544.8V455.05h2.358V544.8zM466.61 544.8V453.59h2.358V544.8zM468.97 544.8V452.26h2.358V544.8zM471.32 544.8V451.06h2.358V544.8zM473.68 544.8V450.18h2.358V544.8zM476.04 544.8V448.47h2.358V544.8zM478.40 544.8V444.94h2.358V544.8zM480.76 544.8V449.63h2.358V544.8zM483.11 544.8V450.49h2.358V544.8zM485.47 544.8V444.93h2.358V544.8zM487.83 544.8V439.55h2.358V544.8zM490.19 544.8V435.44h2.358V544.8zM492.55 544.8V435.40h2.358V544.8zM494.90 544.8V436.40h2.358V544.8zM497.26 544.8V439.67h2.358V544.8zM499.62 544.8V445.59h2.358V544.8zM501.98 544.8V449.79h2.358V544.8zM504.34 544.8V444.44h2.358V544.8zM506.69 544.8V450.50h2.358V544.8zM509.05 544.8V452.38h2.358V544.8zM511.41 544.8V451.94h2.358V544.8zM513.77 544.8V450.86h2.358V544.8zM516.13 544.8V451.67h2.358V544.8zM518.48 544.8V459.26h2.358V544.8zM520.84 544.8V467.49h2.358V544.8zM523.20 544.8V469.79h2.358V544.8zM525.56 544.8V471.68h2.358V544.8zM527.92 544.8V473.61h2.358V544.8zM530.27 544.8V475.70h2.358V544.8zM532.63 544.8V477.24h2.358V544.8zM534.99 544.8V478.79h2.358V544.8zM537.35 544.8V481.80h2.358V544.8zM539.71 544.8V485.77h2.358V544.8zM542.06 544.8V488.89h2.358V544.8zM544.42 544.8V488.31h2.358V544.8zM546.78 544.8V487.73h2.358V544.8zM549.14 544.8V487.15h2.358V544.8zM551.50 544.8V489.85h2.358V544.8zM553.85 544.8V492.54h2.358V544.8zM556.21 544.8V494.59h2.358V544.8zM558.57 544.8V496.64h2.358V544.8zM560.93 544.8V498.83h2.358V544.8zM563.28 544.8V503.99h2.358V544.8zM565.64 544.8V509.10h2.358V544.8zM568.00 544.8V509.60h2.358V544.8zM570.36 544.8V510.09h2.358V544.8zM572.72 544.8V508.71h2.358V544.8zM575.08 544.8V507.29h2.358V544.8zM577.43 544.8V506.72h2.358V544.8z" fill="#896b50"/>
<path d="M75.93 544.8V542.52M78.29 544.8V542.48M80.64 544.8V542.43M83.00 544.8V542.38M85.36 544.8V542.34M87.72 544.8V542.29M90.08 544.8V542.24M92.44 544.8V542.20M94.79 544.8V542.15M97.15 544.8V542.10M99.51 544.8V541.99M101.87 544.8V541.87M104.22 544.8V541.76M106.58 544.8V541.64M108.94 544.8V541.52M111.30 544.8V541.40M113.66 544.8V541.28M116.02 544.8V541.16M118.37 544.8V541.05M120.73 544.8V540.93M123.09 544.8V540.81M125.45 544.8V540.71M127.81 544.8V540.61M130.16 544.8V540.50M132.52 544.8V540.40M134.88 544.8V540.30M137.24 544.8V540.20M139.59 544.8V540.10M141.95 544.8V539.97M144.31 544.8V539.85M146.67 544.8V539.73M149.03 544.8V539.60M151.39 544.8V539.48M153.74 544.8V539.35M156.10 544.8V539.24M158.46 544.8V539.13M160.82 544.8V539.02M163.17 544.8V538.91M165.53 544.8V538.80M167.89 544.8V538.70M170.25 544.8V538.53M172.61 544.8V537.93M174.97 544.8V537.34M177.32 544.8V536.74M179.68 544.8V536.15M182.04 544.8V535.55M184.40 544.8V534.95M186.75 544.8V534.36M189.11 544.8V533.89M191.47 544.8V533.61M193.83 544.8V533.32M196.19 544.8V533.04M198.54 544.8V532.55M200.90 544.8V531.85M203.26 544.8V531.15M205.62 544.8V530.45M207.98 544.8V530.20M210.34 544.8V530.62M212.69 544.8V531.78M215.05 544.8V532.94M217.41 544.8V533.76M219.77 544.8V534.47M222.12 544.8V535.18M224.48 544.8V535.64M226.84 544.8V535.89M229.20 544.8V536.13M231.56 544.8V536.29M233.91 544.8V536.26M236.27 544.8V536.24M238.63 544.8V536.21M240.99 544.8V536.25M243.35 544.8V536.32M245.71 544.8V536.40M248.06 544.8V536.48M250.42 544.8V536.56M252.78 544.8V536.56M255.14 544.8V536.46M257.50 544.8V536.36M259.85 544.8V536.27M262.21 544.8V536.17M264.57 544.8V536.06M266.93 544.8V535.92M269.29 544.8V535.79M271.64 544.8V535.65M274.00 544.8V535.52M276.36 544.8V535.34M278.72 544.8V534.88M281.08 544.8V534.41M283.43 544.8V533.94M285.79 544.8V533.47M288.15 544.8V533.00M290.51 544.8V532.85M292.87 544.8V532.69M295.22 544.8V532.54M297.58 544.8V532.38M299.94 544.8V532.23M302.30 544.8V531.93M304.66 544.8V531.60M307.01 544.8V531.27M309.37 544.8V530.95M311.73 544.8V530.62M314.09 544.8V530.20M316.45 544.8V529.73M318.80 544.8V529.26M321.16 544.8V528.80M323.52 544.8V528.33M325.88 544.8V527.78M328.24 544.8V527.17M330.59 544.8V526.55M332.95 544.8V525.93M335.31 544.8V525.31M337.67 544.8V524.71M340.03 544.8V524.17M342.38 544.8V523.62M344.74 544.8V523.28M347.10 544.8V523.59M349.46 544.8V523.91M351.82 544.8V524.22M354.17 544.8V524.59M356.53 544.8V525.30M358.89 544.8V526.00M361.25 544.8V526.71M363.61 544.8V527.36M365.96 544.8V524.76M368.32 544.8V522.17M370.68 544.8V521.27M373.04 544.8V520.50M375.40 544.8V519.72M377.75 544.8V519.66M380.11 544.8V519.73M382.47 544.8V519.80M384.83 544.8V519.88M387.19 544.8V519.95M389.54 544.8V519.66M391.90 544.8V518.49M394.26 544.8V517.31M396.62 544.8V516.25M398.98 544.8V515.37M401.33 544.8V514.48M403.69 544.8V513.60M406.05 544.8V512.25M408.41 544.8V510.48M410.77 544.8V508.72M413.12 544.8V506.96M415.48 544.8V504.73M417.84 544.8V502.27M420.20 544.8V499.82M422.56 544.8V497.37M424.91 544.8V494.02M427.27 544.8V489.52M429.63 544.8V486.91M431.99 544.8V485.27M434.35 544.8V483.90M436.70 544.8V482.92M439.06 544.8V481.97M441.42 544.8V481.20M443.78 544.8V480.42M446.14 544.8V478.24M448.49 544.8V474.33M450.85 544.8V470.43M453.21 544.8V467.22M455.57 544.8V464.26M457.93 544.8V463.12M460.28 544.8V462.17M462.64 544.8V460.08M465.00 544.8V455.05M467.36 544.8V453.59M469.72 544.8V452.26M472.07 544.8V451.06M474.43 544.8V450.18M476.79 544.8V448.47M479.15 544.8V444.94M481.51 544.8V449.63M483.86 544.8V450.49M486.22 544.8V444.93M488.58 544.8V439.55M490.94 544.8V435.44M493.30 544.8V435.40M495.65 544.8V436.40M498.01 544.8V439.67M500.37 544.8V445.59M502.73 544.8V449.79M505.09 544.8V444.44M507.44 544.8V450.50M509.80 544.8V452.38M512.16 544.8V451.94M514.52 544.8V450.86M516.88 544.8V451.67M519.23 544.8V459.26M521.59 544.8V467.49M523.95 544.8V469.79M526.31 544.8V471.68M528.67 544.8V473.61M531.02 544.8V475.70M533.38 544.8V477.24M535.74 544.8V478.79M538.10 544.8V481.80M540.46 544.8V485.77M542.81 544.8V488.89M545.17 544.8V488.31M547.53 544.8V487.73M549.89 544.8V487.15M552.25 544.8V489.85M554.60 544.8V492.54M556.96 544.8V494.59M559.32 544.8V496.64M561.68 544.8V498.83M564.03 544.8V503.99M566.39 544.8V509.10M568.75 544.8V509.60M571.11 544.8V510.09M573.47 544.8V508.71M575.83 544.8V507.29M578.18 544.8V506.72" stroke="#745a44" stroke-width="0.6" fill="none"/>
<path d="M75.18 544.8V542.57M77.54 544.8V542.52M79.89 544.8V542.48M82.25 544.8V542.43M84.61 544.8V542.38M86.97 544.8V542.34M89.33 544.8V542.29M91.69 544.8V542.24M94.04 544.8V542.20M96.40 544.8V542.15M98.76 544.8V542.10M101.12 544.8V541.99M103.47 544.8V541.87M105.83 544.8V541.76M108.19 544.8V541.64M110.55 544.8V541.52M112.91 544.8V541.40M115.27 544.8V541.28M117.62 544.8V541.16M119.98 544.8V541.05M122.34 544.8V540.93M124.70 544.8V540.81M127.06 544.8V540.71M129.41 544.8V540.61M131.77 544.8V540.50M134.13 544.8V540.40M136.49 544.8V540.30M138.84 544.8V540.20M141.20 544.8V540.10M143.56 544.8V539.97M145.92 544.8V539.85M148.28 544.8V539.73M150.64 544.8V539.60M152.99 544.8V539.48M155.35 544.8V539.35M157.71 544.8V539.24M160.07 544.8V539.13M162.42 544.8V539.02M164.78 544.8V538.91M167.14 544.8V538.80M169.50 544.8V538.70M171.86 544.8V538.53M174.22 544.8V537.93M176.57 544.8V537.34M178.93 544.8V536.74M181.29 544.8V536.15M183.65 544.8V535.55M186.00 544.8V534.95M188.36 544.8V534.36M190.72 544.8V533.89M193.08 544.8V533.61M195.44 544.8V533.32M197.79 544.8V533.04M200.15 544.8V532.55M202.51 544.8V531.85M204.87 544.8V531.15M207.23 544.8V530.45M209.59 544.8V530.62M211.94 544.8V531.78M214.30 544.8V532.94M216.66 544.8V533.76M219.02 544.8V534.47M221.38 544.8V535.18M223.73 544.8V535.64M226.09 544.8V535.89M228.45 544.8V536.13M230.81 544.8V536.29M233.16 544.8V536.29M235.52 544.8V536.26M237.88 544.8V536.24M240.24 544.8V536.25M242.60 544.8V536.32M244.96 544.8V536.40M247.31 544.8V536.48M249.67 544.8V536.56M252.03 544.8V536.56M254.39 544.8V536.56M256.75 544.8V536.46M259.10 544.8V536.36M261.46 544.8V536.27M263.82 544.8V536.17M266.18 544.8V536.06M268.54 544.8V535.92M270.89 544.8V535.79M273.25 544.8V535.65M275.61 544.8V535.52M277.97 544.8V535.34M280.33 544.8V534.88M282.68 544.8V534.41M285.04 544.8V533.94M287.40 544.8V533.47M289.76 544.8V533.00M292.12 544.8V532.85M294.47 544.8V532.69M296.83 544.8V532.54M299.19 544.8V532.38M301.55 544.8V532.23M303.91 544.8V531.93M306.26 544.8V531.60M308.62 544.8V531.27M310.98 544.8V530.95M313.34 544.8V530.62M315.70 544.8V530.20M318.05 544.8V529.73M320.41 544.8V529.26M322.77 544.8V528.80M325.13 544.8V528.33M327.49 544.8V527.78M329.84 544.8V527.17M332.20 544.8V526.55M334.56 544.8V525.93M336.92 544.8V525.31M339.28 544.8V524.71M341.63 544.8V524.17M343.99 544.8V523.62M346.35 544.8V523.59M348.71 544.8V523.91M351.07 544.8V524.22M353.42 544.8V524.59M355.78 544.8V525.30M358.14 544.8V526.00M360.50 544.8V526.71M362.86 544.8V527.36M365.21 544.8V527.36M367.57 544.8V524.76M369.93 544.8V522.17M372.29 544.8V521.27M374.65 544.8V520.50M377.00 544.8V519.72M379.36 544.8V519.73M381.72 544.8V519.80M384.08 544.8V519.88M386.44 544.8V519.95M388.79 544.8V519.95M391.15 544.8V519.66M393.51 544.8V518.49M395.87 544.8V517.31M398.23 544.8V516.25M400.58 544.8V515.37M402.94 544.8V514.48M405.30 544.8V513.60M407.66 544.8V512.25M410.02 544.8V510.48M412.37 544.8V508.72M414.73 544.8V506.96M417.09 544.8V504.73M419.45 544.8V502.27M421.81 544.8V499.82M424.16 544.8V497.37M426.52 544.8V494.02M428.88 544.8V489.52M431.24 544.8V486.91M433.60 544.8V485.27M435.95 544.8V483.90M438.31 544.8V482.92M440.67 544.8V481.97M443.03 544.8V481.20M445.39 544.8V480.42M447.74 544.8V478.24M450.10 544.8V474.33M452.46 544.8V470.43M454.82 544.8V467.22M457.18 544.8V464.26M459.53 544.8V463.12M461.89 544.8V462.17M464.25 544.8V460.08M466.61 544.8V455.05M468.97 544.8V453.59M471.32 544.8V452.26M473.68 544.8V451.06M476.04 544.8V450.18M478.40 544.8V448.47M480.76 544.8V449.63M483.11 544.8V450.49M485.47 544.8V450.49M487.83 544.8V444.93M490.19 544.8V439.55M492.55 544.8V435.44M494.90 544.8V436.40M497.26 544.8V439.67M499.62 544.8V445.59M501.98 544.8V449.79M504.34 544.8V449.79M506.69 544.8V450.50M509.05 544.8V452.38M511.41 544.8V452.38M513.77 544.8V451.94M516.13 544.8V451.67M518.48 544.8V459.26M520.84 544.8V467.49M523.20 544.8V469.79M525.56 544.8V471.68M527.92 544.8V473.61M530.27 544.8V475.70M532.63 544.8V477.24M534.99 544.8V478.79M537.35 544.8V481.80M539.71 544.8V485.77M542.06 544.8V488.89M544.42 544.8V488.89M546.78 544.8V488.31M549.14 544.8V487.73M551.50 544.8V489.85M553.85 544.8V492.54M556.21 544.8V494.59M558.57 544.8V496.64M560.93 544.8V498.83M563.28 544.8V503.99M565.64 544.8V509.10M568.00 544.8V509.60M570.36 544.8V510.09M572.72 544.8V510.09M575.08 544.8V508.71M577.43 544.8V507.29" stroke="#a98d72" stroke-width="0.7" fill="none"/>
<g clip-path="url(#bc)">
<line x1="72.5" x2="579.5" y1="516.66" y2="516.66" stroke="#000" stroke-opacity="0.045" stroke-width="1.4"/>
<line x1="72.5" x2="579.5" y1="488.82" y2="488.82" stroke="#000" stroke-opacity="0.045" stroke-width="1.4"/>
<line x1="72.5" x2="579.5" y1="460.98" y2="460.98" stroke="#000" stroke-opacity="0.045" stroke-width="1.4"/>
<line x1="72.5" x2="579.5" y1="433.14" y2="433.14" stroke="#000" stroke-opacity="0.045" stroke-width="1.4"/>
<line x1="72.5" x2="579.5" y1="405.30" y2="405.30" stroke="#000" stroke-opacity="0.45" stroke-width="1.3"/>
<line x1="72.5" x2="579.5" y1="377.46" y2="377.46" stroke="#000" stroke-opacity="0.045" stroke-width="1.4"/>
<line x1="72.5" x2="579.5" y1="349.62" y2="349.62" stroke="#000" stroke-opacity="0.045" stroke-width="1.4"/>
<line x1="72.5" x2="579.5" y1="321.78" y2="321.78" stroke="#000" stroke-opacity="0.045" stroke-width="1.4"/>
<line x1="72.5" x2="579.5" y1="293.94" y2="293.94" stroke="#000" stroke-opacity="0.045" stroke-width="1.4"/>
<line x1="72.5" x2="579.5" y1="266.10" y2="266.10" stroke="#000" stroke-opacity="0.45" stroke-width="1.3"/>
<line x1="72.5" x2="579.5" y1="238.26" y2="238.26" stroke="#000" stroke-opacity="0.045" stroke-width="1.4"/>
<line x1="72.5" x2="579.5" y1="210.42" y2="210.42" stroke="#000" stroke-opacity="0.045" stroke-width="1.4"/>
<line x1="72.5" x2="579.5" y1="182.58" y2="182.58" stroke="#000" stroke-opacity="0.045" stroke-width="1.4"/>
<line x1="72.5" x2="579.5" y1="154.74" y2="154.74" stroke="#000" stroke-opacity="0.045" stroke-width="1.4"/>
<line x1="72.5" x2="579.5" y1="126.90" y2="126.90" stroke="#000" stroke-opacity="0.45" stroke-width="1.3"/>
<line x1="72.5" x2="579.5" y1="99.06" y2="99.06" stroke="#000" stroke-opacity="0.045" stroke-width="1.4"/>
<line x1="72.5" x2="579.5" y1="71.22" y2="71.22" stroke="#000" stroke-opacity="0.045" stroke-width="1.4"/>
<line x1="147.9" x2="147.9" y1="57.5" y2="544.8" stroke="#000" stroke-opacity="0.42" stroke-width="1.3"/>
<line x1="219.8" x2="219.8" y1="57.5" y2="544.8" stroke="#000" stroke-opacity="0.42" stroke-width="1.3"/>
<line x1="292.6" x2="292.6" y1="57.5" y2="544.8" stroke="#000" stroke-opacity="0.42" stroke-width="1.3"/>
<line x1="364.6" x2="364.6" y1="57.5" y2="544.8" stroke="#000" stroke-opacity="0.42" stroke-width="1.3"/>
<line x1="436.5" x2="436.5" y1="57.5" y2="544.8" stroke="#000" stroke-opacity="0.42" stroke-width="1.3"/>
<line x1="508.5" x2="508.5" y1="57.5" y2="544.8" stroke="#000" stroke-opacity="0.42" stroke-width="1.3"/>
</g>
<polyline points="74.7,488.7 76.6,516.5 82.3,516.5 85.3,485.0 87.6,485.0 90.3,515.3 94.8,515.7 96.3,486.8 112.1,501.0 114.1,502.9 116.5,506.0 118.6,525.4 120.8,526.6 124.7,509.6 126.8,526.6 128.7,512.6 131.1,515.1 133.5,518.7 136.6,507.8 139.6,509.0 143.3,512.6 146.9,514.5 157.0,516.3 165.5,518.1 169.2,510.2 176.5,509.6 182.0,490.1 183.2,499.8 188.0,482.2 193.5,479.2 195.9,472.5 199.6,482.2 205.1,467.2 207.5,470.2 209.9,463.5 213.0,474.5 215.4,481.7 218.4,486.0 221.8,499.2 224.9,500.0 227.1,506.8 229.4,498.4 235.5,497.7 240.1,504.5 243.9,500.7 247.7,514.4 251.5,501.5 254.5,496.9 258.5,504.9 264.5,485.7 270.2,503.8 275.5,495.3 280.9,496.4 284.0,488.9 288.3,490.0 291.5,475.1 295.7,482.6 302.1,483.6 304.9,476.2 307.4,486.8 314.3,470.2 318.9,488.4 321.9,485.4 325.7,477.8 329.5,482.0 333.3,473.2 335.5,469.5 339.1,459.8 342.2,453.1 344.6,444.0 347.6,440.9 349.5,447.9 354.3,439.1 358.0,445.2 361.6,455.5 364.0,444.0 366.8,438.5 368.6,420.0 372.3,392.8 375.0,376.9 376.4,376.0 378.2,386.0 380.0,372.8 383.2,370.0 385.5,370.5 389.6,387.3 391.9,371.9 394.2,373.7 399.2,392.8 401.9,392.8 406.5,379.6 408.8,389.2 412.4,384.6 416.0,370.0 419.7,360.0 421.3,349.0 424.3,327.3 427.3,295.7 430.2,291.7 433.2,276.9 435.2,278.9 438.1,277.9 441.1,288.8 442.6,286.3 445.0,307.0 447.4,309.4 451.1,297.3 455.9,293.6 459.6,297.3 463.2,310.6 466.9,302.1 470.5,307.0 472.5,302.1 475.5,319.0 478.1,316.0 480.6,323.4 483.8,351.1 486.6,338.3 489.1,354.3 491.9,346.8 495.5,363.8 499.8,376.6 502.4,412.0 504.9,399.9 506.7,407.2 513.4,421.7 517.6,410.8 520.7,419.3 522.5,436.3 526.7,441.2 532.8,438.8 538.9,432.7 546.2,441.2 551.1,421.1 555.9,435.1 557.8,424.8 560.2,433.9 562.6,421.7 567.5,452.1 570.5,450.9 578.5,439.5" fill="none" stroke="#de0a16" stroke-width="3.3" stroke-linejoin="round" stroke-linecap="round"/>
</g>
<path d="M119.3 504.5V491.2H169.2V507.5" fill="none" stroke="#de0a16" stroke-width="3"/>
<text x="112" y="486.2" font-family="'Liberation Sans','NanumGothic','Noto Sans CJK KR',sans-serif" font-size="19.3" fill="#d41832" stroke="#d41832" stroke-width="0.3">0.204%</text>
<path d="M424.3 279.5V259.6H474.2V279.5" fill="none" stroke="#de0a16" stroke-width="3"/>
<text x="421.8" y="254.7" font-family="'Liberation Sans','NanumGothic','Noto Sans CJK KR',sans-serif" font-size="19.3" fill="#d41832" stroke="#d41832" stroke-width="0.3">1.74%</text>
<line x1="147.3" y1="428.8" x2="147.3" y2="459.3" stroke="#1b74dc" stroke-width="2.3"/>
<path d="M138.70000000000002 450.7L147.3 459.3L155.9 450.7" fill="none" stroke="#1b74dc" stroke-width="2.4" stroke-linecap="round"/>
<rect x="83.1" y="334.5" width="100" height="95.3" fill="#1b80ec"/>
<text x="133.1" y="353.3" text-anchor="middle" font-family="'Liberation Sans','NanumGothic','Noto Sans CJK KR',sans-serif" font-size="18.5" fill="#f4f9ff" stroke="#f4f9ff" stroke-width="0.12">8월 1일</text>
<text x="133.1" y="376.1" text-anchor="middle" font-family="'Liberation Sans','NanumGothic','Noto Sans CJK KR',sans-serif" font-size="18.5" fill="#f4f9ff" stroke="#f4f9ff" stroke-width="0.12">백신 접종률</text>
<text x="133.1" y="398.9" text-anchor="middle" font-family="'Liberation Sans','NanumGothic','Noto Sans CJK KR',sans-serif" font-size="18.5" fill="#f4f9ff" stroke="#f4f9ff" stroke-width="0.12">1차 37.9%</text>
<text x="133.1" y="421.7" text-anchor="middle" font-family="'Liberation Sans','NanumGothic','Noto Sans CJK KR',sans-serif" font-size="18.5" fill="#f4f9ff" stroke="#f4f9ff" stroke-width="0.12">2차 13.9%</text>
<line x1="219.8" y1="326.9" x2="219.8" y2="453.1" stroke="#1b74dc" stroke-width="2.3"/>
<path d="M211.20000000000002 444.5L219.8 453.1L228.4 444.5" fill="none" stroke="#1b74dc" stroke-width="2.4" stroke-linecap="round"/>
<rect x="170.9" y="232.9" width="100" height="95" fill="#1b80ec"/>
<text x="220.9" y="251.7" text-anchor="middle" font-family="'Liberation Sans','NanumGothic','Noto Sans CJK KR',sans-serif" font-size="18.5" fill="#f4f9ff" stroke="#f4f9ff" stroke-width="0.12">9월 1일</text>
<text x="220.9" y="274.5" text-anchor="middle" font-family="'Liberation Sans','NanumGothic','Noto Sans CJK KR',sans-serif" font-size="18.5" fill="#f4f9ff" stroke="#f4f9ff" stroke-width="0.12">백신 접종률</text>
<text x="220.9" y="297.3" text-anchor="middle" font-family="'Liberation Sans','NanumGothic','Noto Sans CJK KR',sans-serif" font-size="18.5" fill="#f4f9ff" stroke="#f4f9ff" stroke-width="0.12">1차 57.0%</text>
<text x="220.9" y="320.1" text-anchor="middle" font-family="'Liberation Sans','NanumGothic','Noto Sans CJK KR',sans-serif" font-size="18.5" fill="#f4f9ff" stroke="#f4f9ff" stroke-width="0.12">2차 30.7%</text>
<line x1="292.1" y1="224.9" x2="292.1" y2="408.2" stroke="#1b74dc" stroke-width="2.3"/>
<path d="M283.5 399.59999999999997L292.1 408.2L300.70000000000005 399.59999999999997" fill="none" stroke="#1b74dc" stroke-width="2.4" stroke-linecap="round"/>
<rect x="241.2" y="131.4" width="100" height="94.5" fill="#1b80ec"/>
<text x="291.2" y="150.2" text-anchor="middle" font-family="'Liberation Sans','NanumGothic','Noto Sans CJK KR',sans-serif" font-size="18.5" fill="#f4f9ff" stroke="#f4f9ff" stroke-width="0.12">10월 1일</text>
<text x="291.2" y="173.0" text-anchor="middle" font-family="'Liberation Sans','NanumGothic','Noto Sans CJK KR',sans-serif" font-size="18.5" fill="#f4f9ff" stroke="#f4f9ff" stroke-width="0.12">백신 접종률</text>
<text x="291.2" y="195.8" text-anchor="middle" font-family="'Liberation Sans','NanumGothic','Noto Sans CJK KR',sans-serif" font-size="18.5" fill="#f4f9ff" stroke="#f4f9ff" stroke-width="0.12">1차 76.6%</text>
<text x="291.2" y="218.6" text-anchor="middle" font-family="'Liberation Sans','NanumGothic','Noto Sans CJK KR',sans-serif" font-size="18.5" fill="#f4f9ff" stroke="#f4f9ff" stroke-width="0.12">2차 50.1%</text>
<line x1="364.4" y1="330.9" x2="364.4" y2="438.5" stroke="#1b74dc" stroke-width="2.3"/>
<path d="M355.79999999999995 429.9L364.4 438.5L373.0 429.9" fill="none" stroke="#1b74dc" stroke-width="2.4" stroke-linecap="round"/>
<rect x="315.8" y="236.9" width="99.5" height="95" fill="#1b80ec"/>
<text x="365.6" y="255.7" text-anchor="middle" font-family="'Liberation Sans','NanumGothic','Noto Sans CJK KR',sans-serif" font-size="18.5" fill="#f4f9ff" stroke="#f4f9ff" stroke-width="0.12">11월 1일</text>
<text x="365.6" y="278.5" text-anchor="middle" font-family="'Liberation Sans','NanumGothic','Noto Sans CJK KR',sans-serif" font-size="18.5" fill="#f4f9ff" stroke="#f4f9ff" stroke-width="0.12">백신 접종률</text>
<text x="365.6" y="301.3" text-anchor="middle" font-family="'Liberation Sans','NanumGothic','Noto Sans CJK KR',sans-serif" font-size="18.5" fill="#f4f9ff" stroke="#f4f9ff" stroke-width="0.12">1차 80.1%</text>
<text x="365.6" y="324.1" text-anchor="middle" font-family="'Liberation Sans','NanumGothic','Noto Sans CJK KR',sans-serif" font-size="18.5" fill="#f4f9ff" stroke="#f4f9ff" stroke-width="0.12">2차 75.3%</text>
<rect x="82.5" y="65.2" width="384.9" height="63.1" fill="#fff" stroke="#1a1a1a" stroke-width="1.1"/>
<rect x="91.6" y="70.8" width="47.7" height="10.4" fill="#7b9cc2"/>
<rect x="91.6" y="91.8" width="47.7" height="10.6" fill="#b9977c"/>
<line x1="91.6" x2="139.3" y1="118" y2="118" stroke="#de0a16" stroke-width="3"/>
<text x="149.5" y="81.6" font-family="'NanumGothic','Noto Sans CJK KR',sans-serif" font-size="17" fill="#111" stroke="#111" stroke-width="0.25">신규 확진자수 7일 이동평균</text>
<text x="149.5" y="102.8" font-family="'NanumGothic','Noto Sans CJK KR',sans-serif" font-size="17" fill="#111" stroke="#111" stroke-width="0.25">신규 사망자수 7일 이동평균 × 30</text>
<text x="149.5" y="124.0" font-family="'NanumGothic','Noto Sans CJK KR',sans-serif" font-size="17" fill="#111" stroke="#111" stroke-width="0.25">단기 확진자 치명률 (확진-사망 시차 17일)</text>
<rect x="72.5" y="57.5" width="507.0" height="487.29999999999995" fill="none" stroke="#000" stroke-width="2.8"/>
<line x1="72.5" x2="80.5" y1="544.50" y2="544.50" stroke="#000" stroke-width="1.6"/>
<line x1="72.5" x2="76.5" y1="516.66" y2="516.66" stroke="#000" stroke-width="1.6"/>
<line x1="72.5" x2="76.5" y1="488.82" y2="488.82" stroke="#000" stroke-width="1.6"/>
<line x1="72.5" x2="76.5" y1="460.98" y2="460.98" stroke="#000" stroke-width="1.6"/>
<line x1="72.5" x2="76.5" y1="433.14" y2="433.14" stroke="#000" stroke-width="1.6"/>
<line x1="72.5" x2="80.5" y1="405.30" y2="405.30" stroke="#000" stroke-width="1.6"/>
<line x1="72.5" x2="76.5" y1="377.46" y2="377.46" stroke="#000" stroke-width="1.6"/>
<line x1="72.5" x2="76.5" y1="349.62" y2="349.62" stroke="#000" stroke-width="1.6"/>
<line x1="72.5" x2="76.5" y1="321.78" y2="321.78" stroke="#000" stroke-width="1.6"/>
<line x1="72.5" x2="76.5" y1="293.94" y2="293.94" stroke="#000" stroke-width="1.6"/>
<line x1="72.5" x2="80.5" y1="266.10" y2="266.10" stroke="#000" stroke-width="1.6"/>
<line x1="72.5" x2="76.5" y1="238.26" y2="238.26" stroke="#000" stroke-width="1.6"/>
<line x1="72.5" x2="76.5" y1="210.42" y2="210.42" stroke="#000" stroke-width="1.6"/>
<line x1="72.5" x2="76.5" y1="182.58" y2="182.58" stroke="#000" stroke-width="1.6"/>
<line x1="72.5" x2="76.5" y1="154.74" y2="154.74" stroke="#000" stroke-width="1.6"/>
<line x1="72.5" x2="80.5" y1="126.90" y2="126.90" stroke="#000" stroke-width="1.6"/>
<line x1="72.5" x2="76.5" y1="99.06" y2="99.06" stroke="#000" stroke-width="1.6"/>
<line x1="72.5" x2="76.5" y1="71.22" y2="71.22" stroke="#000" stroke-width="1.6"/>
<line x1="571.5" x2="579.5" y1="544.50" y2="544.50" stroke="#000" stroke-width="1.6"/>
<line x1="575.5" x2="579.5" y1="520.14" y2="520.14" stroke="#000" stroke-width="1.6"/>
<line x1="575.5" x2="579.5" y1="495.78" y2="495.78" stroke="#000" stroke-width="1.6"/>
<line x1="575.5" x2="579.5" y1="471.42" y2="471.42" stroke="#000" stroke-width="1.6"/>
<line x1="571.5" x2="579.5" y1="447.06" y2="447.06" stroke="#000" stroke-width="1.6"/>
<line x1="575.5" x2="579.5" y1="422.70" y2="422.70" stroke="#000" stroke-width="1.6"/>
<line x1="575.5" x2="579.5" y1="398.34" y2="398.34" stroke="#000" stroke-width="1.6"/>
<line x1="575.5" x2="579.5" y1="373.98" y2="373.98" stroke="#000" stroke-width="1.6"/>
<line x1="571.5" x2="579.5" y1="349.62" y2="349.62" stroke="#000" stroke-width="1.6"/>
<line x1="575.5" x2="579.5" y1="325.26" y2="325.26" stroke="#000" stroke-width="1.6"/>
<line x1="575.5" x2="579.5" y1="300.90" y2="300.90" stroke="#000" stroke-width="1.6"/>
<line x1="575.5" x2="579.5" y1="276.54" y2="276.54" stroke="#000" stroke-width="1.6"/>
<line x1="571.5" x2="579.5" y1="252.18" y2="252.18" stroke="#000" stroke-width="1.6"/>
<line x1="575.5" x2="579.5" y1="227.82" y2="227.82" stroke="#000" stroke-width="1.6"/>
<line x1="575.5" x2="579.5" y1="203.46" y2="203.46" stroke="#000" stroke-width="1.6"/>
<line x1="575.5" x2="579.5" y1="179.10" y2="179.10" stroke="#000" stroke-width="1.6"/>
<line x1="571.5" x2="579.5" y1="154.74" y2="154.74" stroke="#000" stroke-width="1.6"/>
<line x1="575.5" x2="579.5" y1="130.38" y2="130.38" stroke="#000" stroke-width="1.6"/>
<line x1="575.5" x2="579.5" y1="106.02" y2="106.02" stroke="#000" stroke-width="1.6"/>
<line x1="575.5" x2="579.5" y1="81.66" y2="81.66" stroke="#000" stroke-width="1.6"/>
<line x1="571.5" x2="579.5" y1="57.30" y2="57.30" stroke="#000" stroke-width="1.6"/>
<line x1="74.0" x2="74.0" y1="544.8" y2="553.3" stroke="#000" stroke-width="1.8"/>
<line x1="97.6" x2="97.6" y1="544.8" y2="549.3" stroke="#000" stroke-width="1.8"/>
<line x1="121.2" x2="121.2" y1="544.8" y2="549.3" stroke="#000" stroke-width="1.8"/>
<line x1="147.9" x2="147.9" y1="544.8" y2="553.3" stroke="#000" stroke-width="1.8"/>
<line x1="171.5" x2="171.5" y1="544.8" y2="549.3" stroke="#000" stroke-width="1.8"/>
<line x1="195.1" x2="195.1" y1="544.8" y2="549.3" stroke="#000" stroke-width="1.8"/>
<line x1="219.8" x2="219.8" y1="544.8" y2="553.3" stroke="#000" stroke-width="1.8"/>
<line x1="243.4" x2="243.4" y1="544.8" y2="549.3" stroke="#000" stroke-width="1.8"/>
<line x1="267.0" x2="267.0" y1="544.8" y2="549.3" stroke="#000" stroke-width="1.8"/>
<line x1="292.6" x2="292.6" y1="544.8" y2="553.3" stroke="#000" stroke-width="1.8"/>
<line x1="316.2" x2="316.2" y1="544.8" y2="549.3" stroke="#000" stroke-width="1.8"/>
<line x1="339.8" x2="339.8" y1="544.8" y2="549.3" stroke="#000" stroke-width="1.8"/>
<line x1="364.6" x2="364.6" y1="544.8" y2="553.3" stroke="#000" stroke-width="1.8"/>
<line x1="388.2" x2="388.2" y1="544.8" y2="549.3" stroke="#000" stroke-width="1.8"/>
<line x1="411.8" x2="411.8" y1="544.8" y2="549.3" stroke="#000" stroke-width="1.8"/>
<line x1="436.5" x2="436.5" y1="544.8" y2="553.3" stroke="#000" stroke-width="1.8"/>
<line x1="460.1" x2="460.1" y1="544.8" y2="549.3" stroke="#000" stroke-width="1.8"/>
<line x1="483.7" x2="483.7" y1="544.8" y2="549.3" stroke="#000" stroke-width="1.8"/>
<line x1="508.5" x2="508.5" y1="544.8" y2="553.3" stroke="#000" stroke-width="1.8"/>
<line x1="532.1" x2="532.1" y1="544.8" y2="549.3" stroke="#000" stroke-width="1.8"/>
<line x1="555.7" x2="555.7" y1="544.8" y2="549.3" stroke="#000" stroke-width="1.8"/>
<text x="63" y="550.7" text-anchor="end" font-family="'Liberation Sans','NanumGothic','Noto Sans CJK KR',sans-serif" font-size="17.3" fill="#c4122a" stroke="#c4122a" stroke-width="0.2">0.0</text>
<text x="63" y="411.5" text-anchor="end" font-family="'Liberation Sans','NanumGothic','Noto Sans CJK KR',sans-serif" font-size="17.3" fill="#c4122a" stroke="#c4122a" stroke-width="0.2">1.0</text>
<text x="63" y="272.3" text-anchor="end" font-family="'Liberation Sans','NanumGothic','Noto Sans CJK KR',sans-serif" font-size="17.3" fill="#c4122a" stroke="#c4122a" stroke-width="0.2">2.0</text>
<text x="63" y="133.1" text-anchor="end" font-family="'Liberation Sans','NanumGothic','Noto Sans CJK KR',sans-serif" font-size="17.3" fill="#c4122a" stroke="#c4122a" stroke-width="0.2">3.0</text>
<text x="585" y="551.1" font-family="'Liberation Sans','NanumGothic','Noto Sans CJK KR',sans-serif" font-size="18" textLength="9.61" lengthAdjust="spacingAndGlyphs" fill="#1b356f" stroke="#1b356f" stroke-width="0.2">0</text>
<text x="585" y="453.7" font-family="'Liberation Sans','NanumGothic','Noto Sans CJK KR',sans-serif" font-size="18" textLength="38.43" lengthAdjust="spacingAndGlyphs" fill="#1b356f" stroke="#1b356f" stroke-width="0.2">2000</text>
<text x="585" y="356.2" font-family="'Liberation Sans','NanumGothic','Noto Sans CJK KR',sans-serif" font-size="18" textLength="38.43" lengthAdjust="spacingAndGlyphs" fill="#1b356f" stroke="#1b356f" stroke-width="0.2">4000</text>
<text x="585" y="258.8" font-family="'Liberation Sans','NanumGothic','Noto Sans CJK KR',sans-serif" font-size="18" textLength="38.43" lengthAdjust="spacingAndGlyphs" fill="#1b356f" stroke="#1b356f" stroke-width="0.2">6000</text>
<text x="585" y="161.3" font-family="'Liberation Sans','NanumGothic','Noto Sans CJK KR',sans-serif" font-size="18" textLength="38.43" lengthAdjust="spacingAndGlyphs" fill="#1b356f" stroke="#1b356f" stroke-width="0.2">8000</text>
<text x="585" y="63.9" font-family="'Liberation Sans','NanumGothic','Noto Sans CJK KR',sans-serif" font-size="18" textLength="48.04" lengthAdjust="spacingAndGlyphs" fill="#1b356f" stroke="#1b356f" stroke-width="0.2">10000</text>
<text transform="translate(23.6,299.5) rotate(-90)" text-anchor="middle" font-family="'NanumGothic','Noto Sans CJK KR',sans-serif" font-size="17.4" fill="#c4122a" stroke="#c4122a" stroke-width="0.25">확진자 치명률 (%)</text>
<text transform="translate(637,300) rotate(90)" text-anchor="middle" font-family="'NanumGothic','Noto Sans CJK KR',sans-serif" font-size="17" fill="#1b356f" stroke="#1b356f" stroke-width="0.25">확진자수, 사망자수×30</text>
<text transform="translate(69.5,560.8) rotate(45)" font-family="'NanumGothic','Noto Sans CJK KR',sans-serif" font-size="16.6" fill="#111" stroke="#111" stroke-width="0.25">2021년 7월</text>
<text transform="translate(143.4,560.8) rotate(45)" font-family="'NanumGothic','Noto Sans CJK KR',sans-serif" font-size="16.6" fill="#111" stroke="#111" stroke-width="0.25">2021년 8월</text>
<text transform="translate(215.3,560.8) rotate(45)" font-family="'NanumGothic','Noto Sans CJK KR',sans-serif" font-size="16.6" fill="#111" stroke="#111" stroke-width="0.25">2021년 9월</text>
<text transform="translate(288.1,560.8) rotate(45)" font-family="'NanumGothic','Noto Sans CJK KR',sans-serif" font-size="16.6" fill="#111" stroke="#111" stroke-width="0.25">2021년10월</text>
<text transform="translate(360.1,560.8) rotate(45)" font-family="'NanumGothic','Noto Sans CJK KR',sans-serif" font-size="16.6" fill="#111" stroke="#111" stroke-width="0.25">2021년11월</text>
<text transform="translate(432.0,560.8) rotate(45)" font-family="'NanumGothic','Noto Sans CJK KR',sans-serif" font-size="16.6" fill="#111" stroke="#111" stroke-width="0.25">2021년12월</text>
<text transform="translate(504.0,560.8) rotate(45)" font-family="'NanumGothic','Noto Sans CJK KR',sans-serif" font-size="16.6" fill="#111" stroke="#111" stroke-width="0.25">2022년 1월</text>
<text x="326.8" y="641.8" text-anchor="middle" font-family="'NanumGothic','Noto Sans CJK KR',sans-serif" font-size="17.6" fill="#111" stroke="#111" stroke-width="0.3">날짜</text>
</svg></body></html>
